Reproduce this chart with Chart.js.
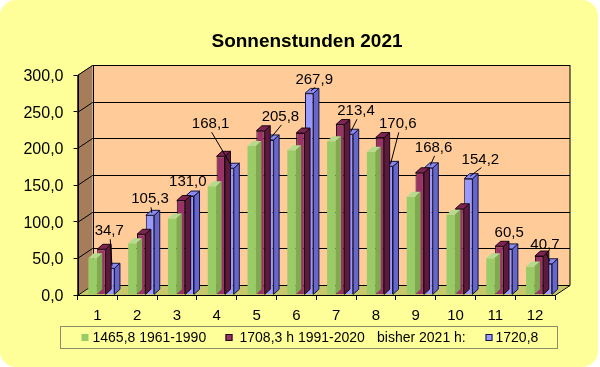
<!DOCTYPE html>
<html>
<head>
<meta charset="utf-8">
<script src="https://cdn.jsdelivr.net/npm/chart.js@4.4.0/dist/chart.umd.min.js"></script>
<style>
  html, body { margin: 0; padding: 0; background: #fff; }
</style>
</head>
<body>
<canvas id="sonne" width="600" height="367"></canvas>
<script>
const months = ["1", "2", "3", "4", "5", "6", "7", "8", "9", "10", "11", "12"];
const mean1961 = [48.0, 68.0, 101.0, 144.0, 197.8, 192.0, 204.0, 190.0, 130.0, 106.0, 48.0, 37.0];
const mean1991 = [60, 80, 125, 184, 218, 215, 226.3, 209, 162, 114, 64, 51];
const sun2021 = [34.7, 105.3, 131.0, 168.1, 205.8, 267.9, 213.4, 170.6, 168.6, 154.2, 60.5, 40.7];
const legendTexts = ["1465,8 1961-1990", "1708,3 h 1991-2020", "bisher 2021 h:", "1720,8"];

// where the value labels of 2021 were dragged to (dx, dy from bar top, leader line?)
const labelShift = [
    [-1, -37, 1], [0, -16, 1], [-2, -14, 0], [-19, -44, 1], [11, -23, 1], [5, -14, 1],
    [7, -23, 1], [9, -42, 1], [5, -20, 1], [12, -19, 1], [1, -16, 0], [-3, -19, 1]
];

// legend entries as Excel placed them: marker x, text x
const legendSlots = [[81.5, 92.5], [225.5, 239.5], [null, 377], [485.5, 495.5]];

const FONT = '"Liberation Sans", Arial, sans-serif';
const WALL = { x: 15, y: -10 };      // depth of the back wall
const BOX = { x: 5.5, y: -5 };       // depth of one column
const SHIFT = { x: 4, y: -2.6 };     // columns stand in the middle of the floor

const comma = v => v.toFixed(1).replace(".", ",");

function poly(ctx, pts, fill, stroke) {
    ctx.beginPath();
    ctx.moveTo(pts[0][0], pts[0][1]);
    pts.slice(1).forEach(p => ctx.lineTo(p[0], p[1]));
    ctx.closePath();
    if (fill) { ctx.fillStyle = fill; ctx.fill(); }
    if (stroke) { ctx.strokeStyle = stroke; ctx.lineWidth = 1; ctx.stroke(); }
}

function line(ctx, x1, y1, x2, y2) {
    ctx.beginPath();
    ctx.moveTo(x1, y1);
    ctx.lineTo(x2, y2);
    ctx.stroke();
}

const excel3d = {
    id: "excel3d",
    beforeDraw(chart) {
        const { ctx, width, height } = chart;
        const r = 16, w = width - 2, h = height;
        ctx.save();
        ctx.fillStyle = "#fff";
        ctx.fillRect(0, 0, width, height);
        ctx.beginPath();
        ctx.moveTo(r, 0);
        ctx.arcTo(w, 0, w, h, r);
        ctx.arcTo(w, h, 0, h, r);
        ctx.arcTo(0, h, 0, 0, r);
        ctx.arcTo(0, 0, w, 0, r);
        ctx.closePath();
        ctx.fillStyle = "#FFFF99";
        ctx.fill();
        ctx.restore();
    },
    beforeDatasetsDraw(chart) {
        const { ctx, chartArea: a } = chart;
        const y = chart.scales.y;
        const dx = WALL.x, dy = WALL.y;
        ctx.save();
        ctx.fillStyle = "#FFCC99";
        ctx.fillRect(a.left + dx, a.top + dy, a.width, a.height);
        poly(ctx, [[a.left, a.top], [a.left + dx, a.top + dy], [a.left + dx, a.bottom + dy], [a.left, a.bottom]], "#A67D5B");
        poly(ctx, [[a.left, a.bottom], [a.left + dx, a.bottom + dy], [a.right + dx, a.bottom + dy], [a.right, a.bottom]], "#C8C86A");
        ctx.strokeStyle = "#000";
        ctx.lineWidth = 1;
        y.ticks.forEach(t => {
            const py = Math.round(y.getPixelForValue(t.value)) + 0.5;
            ctx.beginPath();
            ctx.moveTo(a.left, py);
            ctx.lineTo(a.left + dx, py + dy);
            ctx.lineTo(a.right + dx, py + dy);
            ctx.stroke();
        });
        const L = Math.round(a.left) + 0.5, B = Math.round(a.bottom) + 0.5;
        line(ctx, L, a.top, L, B);
        line(ctx, L + dx, a.top + dy, L + dx, B + dy);
        line(ctx, a.right + dx, a.top + dy, a.right + dx, B + dy);
        line(ctx, L, B, a.right, B);
        line(ctx, a.right, B, a.right + dx, B + dy);
        ctx.restore();
        ctx.save();
        ctx.translate(SHIFT.x, SHIFT.y);
    },
    afterDatasetDraw(chart, args) {
        const ctx = chart.ctx;
        const ds = chart.data.datasets[args.index];
        args.meta.data.forEach(bar => {
            const { x, y, base, width } = bar.getProps(["x", "y", "base", "width"], true);
            const l = x - width / 2, r = x + width / 2;
            poly(ctx, [[r, y], [r + BOX.x, y + BOX.y], [r + BOX.x, base + BOX.y], [r, base]], ds.sideColor, ds.edgeColor);
            poly(ctx, [[l, y], [l + BOX.x, y + BOX.y], [r + BOX.x, y + BOX.y], [r, y]], ds.topColor, ds.edgeColor);
        });
    },
    afterDatasetsDraw(chart) {
        const ctx = chart.ctx;
        ctx.restore();
        // value labels of 2021
        const meta = chart.getDatasetMeta(2);
        ctx.save();
        ctx.font = "15px " + FONT;
        ctx.fillStyle = "#000";
        ctx.strokeStyle = "#000";
        ctx.lineWidth = 1;
        ctx.textAlign = "center";
        ctx.textBaseline = "middle";
        meta.data.forEach((bar, i) => {
            const bx = bar.x + SHIFT.x, by = bar.y + SHIFT.y;
            const [ox, oy, lead] = labelShift[i];
            const lx = bx + ox, ly = by + oy;
            if (lead) line(ctx, lx + 1, ly + 8, bx + BOX.x / 2 - 1, by + BOX.y / 2);
            ctx.fillText(comma(sun2021[i]), lx, ly);
        });
        ctx.restore();
    },
    afterDraw(chart) {
        // Excel style legend inside a framed box
        const ctx = chart.ctx;
        const a = chart.chartArea;
        const top = 326.5, h = 22, cy = top + h / 2;
        const left = a.left - 18, right = a.right + 1.5;
        ctx.save();
        ctx.strokeStyle = "#8C8C6C";
        ctx.lineWidth = 1;
        ctx.strokeRect(Math.round(left) + 0.5, top, Math.round(right - left), h);
        ctx.font = "14px " + FONT;
        ctx.textBaseline = "middle";
        const sets = chart.data.datasets;
        const owners = [sets[0], sets[1], null, sets[2]];
        legendSlots.forEach(([bx, tx], i) => {
            const ds = owners[i];
            if (ds) {
                ctx.fillStyle = ds.backgroundColor;
                ctx.fillRect(bx, cy - 3.5, 7, 7);
                if (ds.edgeColor) {
                    ctx.strokeStyle = ds.edgeColor;
                    ctx.strokeRect(bx + 0.5, cy - 3, 6, 6);
                }
            }
            ctx.fillStyle = "#000";
            ctx.fillText(legendTexts[i], tx, cy + 0.5);
        });
        ctx.restore();
    }
};

Chart.defaults.font.family = FONT;
Chart.defaults.color = "#000";

new Chart(document.getElementById("sonne"), {
    type: "bar",
    plugins: [excel3d],
    data: {
        labels: months,
        datasets: [
            {
                label: legendTexts[0],
                data: mean1961,
                backgroundColor: "#99CC66",
                topColor: "#B6DB8E",
                sideColor: "#7FAA50",
                edgeColor: null,
                borderWidth: 0,
                yAxisID: "y2"
            },
            {
                label: legendTexts[1],
                data: mean1991,
                backgroundColor: "#993366",
                topColor: "#7D2453",
                sideColor: "#5E1A3D",
                edgeColor: "#1A0612",
                borderColor: "#1A0612",
                borderWidth: 1,
                yAxisID: "y2"
            },
            {
                label: legendTexts[3],
                data: sun2021,
                backgroundColor: "#9999FF",
                topColor: "#8A8AF0",
                sideColor: "#6666CC",
                edgeColor: "#14143C",
                borderColor: "#14143C",
                borderWidth: 1,
                yAxisID: "y2"
            }
        ]
    },
    options: {
        responsive: false,
        animation: false,
        events: [],
        categoryPercentage: 0.667,
        barPercentage: 0.95,
        clip: false,
        layout: { padding: { top: 30, left: 14, right: 0, bottom: 46.5 } },
        plugins: {
            legend: { display: false },
            tooltip: { enabled: false },
            title: {
                display: true,
                text: "Sonnenstunden 2021",
                color: "#000",
                font: { size: 19, weight: "bold" },
                padding: { top: 0, bottom: 22.2 }
            }
        },
        scales: {
            x: {
                grid: { offset: true, drawOnChartArea: false, tickLength: 5, color: "#000" },
                border: { display: true, color: "#000" },
                ticks: { font: { size: 15 }, padding: 7, color: "#000" },
                afterFit: s => { s.height = 25.5; }
            },
            y: {
                position: "left",
                min: 0,
                max: 300,
                grid: { drawOnChartArea: false, tickLength: 4, color: "#000" },
                border: { display: true, color: "#000" },
                ticks: { stepSize: 50, font: { size: 16 }, padding: 10, labelOffset: 1.5, color: "#000", callback: v => comma(v) },
                afterFit: s => { s.width = 63.5; }
            },
            y2: {
                position: "right",
                beginAtZero: false,
                min: 2.53,
                max: 295.87,
                grid: { display: false },
                border: { display: false },
                ticks: { display: false },
                afterFit: s => { s.width = 45; }
            }
        }
    }
});
</script>
</body>
</html>
